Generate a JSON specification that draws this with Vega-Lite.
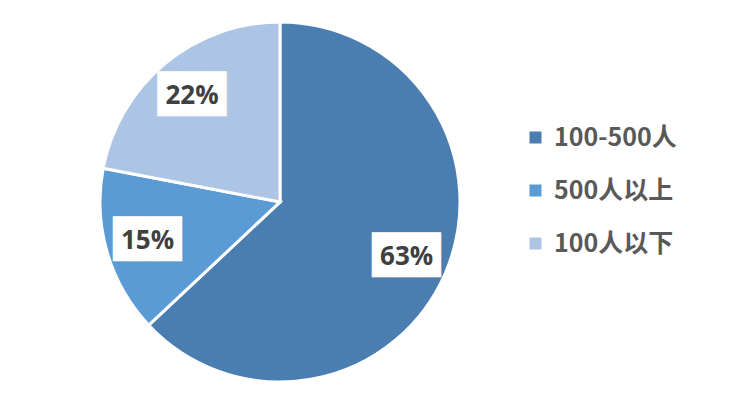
{
  "$schema": "https://vega.github.io/schema/vega-lite/v6.json",
  "width": 560,
  "height": 404,
  "autosize": {"type": "none"},
  "padding": {"left": 0, "top": 0, "right": 180, "bottom": 2},
  "background": "white",
  "config": {"view": {"stroke": null}},
  "data": {
    "values": [
      {"category": "100-500人", "share": 63, "rank": 1, "label": "63%"},
      {"category": "500人以上", "share": 15, "rank": 2, "label": "15%"},
      {"category": "100人以下", "share": 22, "rank": 3, "label": "22%"}
    ]
  },
  "encoding": {
    "theta": {"field": "share", "type": "quantitative", "stack": true},
    "order": {"field": "rank", "type": "ordinal"},
    "color": {
      "field": "category",
      "type": "nominal",
      "sort": ["100-500人", "500人以上", "100人以下"],
      "scale": {"domain": ["100-500人", "500人以上", "100人以下"], "range": ["#4a7eb1", "#5b9bd5", "#adc5e5"]},
      "legend": {
        "title": null,
        "orient": "none",
        "legendX": 523,
        "legendY": 125,
        "symbolType": "square",
        "symbolSize": 144,
        "symbolStrokeWidth": 0,
        "labelFont": "Noto Sans CJK SC",
        "labelFontWeight": "bold",
        "labelFontSize": 25,
        "labelColor": "#595959",
        "labelOffset": 6,
        "rowPadding": 27,
        "padding": 0
      }
    }
  },
  "layer": [
    {"mark": {"type": "arc", "outerRadius": 180, "stroke": "white", "strokeWidth": 3}},
    {
      "mark": {"type": "text", "radius": 138, "text": "███", "font": "DejaVu Sans Mono", "fontSize": 38, "baseline": "middle", "align": "center"},
      "encoding": {"color": {"value": "white"}}
    },
    {
      "mark": {"type": "text", "radius": 138, "font": "Open Sans", "fontWeight": "bold", "fontSize": 26, "baseline": "middle", "align": "center"},
      "encoding": {"text": {"field": "label"}, "color": {"value": "#404040"}}
    }
  ]
}
